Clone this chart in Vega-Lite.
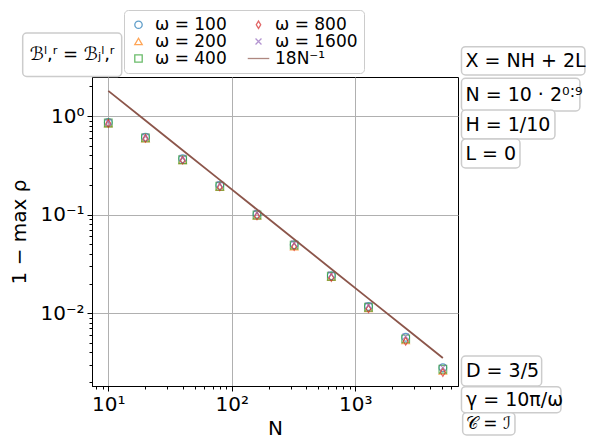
{
  "$schema": "https://vega.github.io/schema/vega-lite/v6.json",
  "autosize": "none",
  "width": 366,
  "height": 309,
  "padding": {"left": 92, "top": 77, "right": 140, "bottom": 60},
  "background": "white",
  "config": {
    "view": {"stroke": "black", "strokeWidth": 1},
    "font": "DejaVu Sans",
    "axis": {"domainColor": "black", "tickColor": "black", "labelColor": "black", "titleColor": "black", "labelFont": "DejaVu Sans", "titleFont": "DejaVu Sans", "titleFontWeight": "normal", "gridColor": "#b0b0b0", "gridWidth": 1}
  },
  "datasets": {
    "pts": [
      {"N": 10, "rho": 0.86, "series": "ω = 100"},
      {"N": 20, "rho": 0.61, "series": "ω = 100"},
      {"N": 40, "rho": 0.37, "series": "ω = 100"},
      {"N": 80, "rho": 0.198, "series": "ω = 100"},
      {"N": 160, "rho": 0.101, "series": "ω = 100"},
      {"N": 320, "rho": 0.0495, "series": "ω = 100"},
      {"N": 640, "rho": 0.024, "series": "ω = 100"},
      {"N": 1280, "rho": 0.0117, "series": "ω = 100"},
      {"N": 2560, "rho": 0.0057, "series": "ω = 100"},
      {"N": 5120, "rho": 0.0028, "series": "ω = 100"},
      {"N": 10, "rho": 0.84, "series": "ω = 200"},
      {"N": 20, "rho": 0.59, "series": "ω = 200"},
      {"N": 40, "rho": 0.355, "series": "ω = 200"},
      {"N": 80, "rho": 0.19, "series": "ω = 200"},
      {"N": 160, "rho": 0.097, "series": "ω = 200"},
      {"N": 320, "rho": 0.0475, "series": "ω = 200"},
      {"N": 640, "rho": 0.0232, "series": "ω = 200"},
      {"N": 1280, "rho": 0.0112, "series": "ω = 200"},
      {"N": 2560, "rho": 0.0053, "series": "ω = 200"},
      {"N": 5120, "rho": 0.0026, "series": "ω = 200"},
      {"N": 10, "rho": 0.85, "series": "ω = 400"},
      {"N": 20, "rho": 0.6, "series": "ω = 400"},
      {"N": 40, "rho": 0.36, "series": "ω = 400"},
      {"N": 80, "rho": 0.194, "series": "ω = 400"},
      {"N": 160, "rho": 0.099, "series": "ω = 400"},
      {"N": 320, "rho": 0.049, "series": "ω = 400"},
      {"N": 640, "rho": 0.0237, "series": "ω = 400"},
      {"N": 1280, "rho": 0.0115, "series": "ω = 400"},
      {"N": 2560, "rho": 0.0055, "series": "ω = 400"},
      {"N": 5120, "rho": 0.0027, "series": "ω = 400"},
      {"N": 10, "rho": 0.845, "series": "ω = 800"},
      {"N": 20, "rho": 0.595, "series": "ω = 800"},
      {"N": 40, "rho": 0.357, "series": "ω = 800"},
      {"N": 80, "rho": 0.191, "series": "ω = 800"},
      {"N": 160, "rho": 0.097, "series": "ω = 800"},
      {"N": 320, "rho": 0.0475, "series": "ω = 800"},
      {"N": 640, "rho": 0.023, "series": "ω = 800"},
      {"N": 1280, "rho": 0.0111, "series": "ω = 800"},
      {"N": 2560, "rho": 0.0052, "series": "ω = 800"},
      {"N": 5120, "rho": 0.0025, "series": "ω = 800"},
      {"N": 10, "rho": 0.87, "series": "ω = 1600"},
      {"N": 20, "rho": 0.62, "series": "ω = 1600"},
      {"N": 40, "rho": 0.375, "series": "ω = 1600"},
      {"N": 80, "rho": 0.203, "series": "ω = 1600"},
      {"N": 160, "rho": 0.104, "series": "ω = 1600"},
      {"N": 320, "rho": 0.051, "series": "ω = 1600"},
      {"N": 640, "rho": 0.0247, "series": "ω = 1600"},
      {"N": 1280, "rho": 0.012, "series": "ω = 1600"},
      {"N": 2560, "rho": 0.0058, "series": "ω = 1600"},
      {"N": 5120, "rho": 0.0028, "series": "ω = 1600"}
    ],
    "fit": [
      {"N": 10, "rho": 1.8, "series": "18N⁻¹"},
      {"N": 20, "rho": 0.9, "series": "18N⁻¹"},
      {"N": 40, "rho": 0.45, "series": "18N⁻¹"},
      {"N": 80, "rho": 0.225, "series": "18N⁻¹"},
      {"N": 160, "rho": 0.1125, "series": "18N⁻¹"},
      {"N": 320, "rho": 0.05625, "series": "18N⁻¹"},
      {"N": 640, "rho": 0.028125, "series": "18N⁻¹"},
      {"N": 1280, "rho": 0.0140625, "series": "18N⁻¹"},
      {"N": 2560, "rho": 0.00703125, "series": "18N⁻¹"},
      {"N": 5120, "rho": 0.003515625, "series": "18N⁻¹"}
    ]
  },
  "layer": [
    {
      "data": {"name": "pts"},
      "mark": {"type": "point", "filled": false, "size": 60, "strokeWidth": 1.1, "clip": true},
      "encoding": {
        "x": {
          "field": "N", "type": "quantitative",
          "scale": {"type": "log", "domain": [7.38, 6790], "nice": false},
          "axis": {
            "title": "N", "titleFontSize": 20, "titlePadding": 4,
            "labelFontSize": 20, "labelPadding": 3, "labelOverlap": false, "labelFlush": false,
            "values": [8, 9, 10, 20, 30, 40, 50, 60, 70, 80, 90, 100, 200, 300, 400, 500, 600, 700, 800, 900, 1000, 2000, 3000, 4000, 5000, 6000],
            "labelExpr": "datum.value == 10 ? '10¹' : datum.value == 100 ? '10²' : datum.value == 1000 ? '10³' : ''",
            "tickSize": {"condition": {"test": "datum.value == 10 || datum.value == 100 || datum.value == 1000", "value": 5}, "value": 3},
            "grid": true,
            "gridOpacity": {"condition": {"test": "datum.value == 10 || datum.value == 100 || datum.value == 1000", "value": 1}, "value": 0}
          }
        },
        "y": {
          "field": "rho", "type": "quantitative",
          "scale": {"type": "log", "domain": [0.001827, 2.487], "nice": false},
          "axis": {
            "title": "1 − max ρ", "titleFontSize": 20, "titlePadding": 10,
            "labelFontSize": 20, "labelPadding": 3, "labelOverlap": false, "labelFlush": false,
            "values": [0.002, 0.003, 0.004, 0.005, 0.006, 0.007, 0.008, 0.009, 0.01, 0.02, 0.03, 0.04, 0.05, 0.06, 0.07, 0.08, 0.09, 0.1, 0.2, 0.3, 0.4, 0.5, 0.6, 0.7, 0.8, 0.9, 1, 2],
            "labelExpr": "datum.value == 1 ? '10⁰' : datum.value == 0.1 ? '10⁻¹' : datum.value == 0.01 ? '10⁻²' : ''",
            "tickSize": {"condition": {"test": "datum.value == 1 || datum.value == 0.1 || datum.value == 0.01", "value": 5}, "value": 3},
            "grid": true,
            "gridOpacity": {"condition": {"test": "datum.value == 1 || datum.value == 0.1 || datum.value == 0.01", "value": 1}, "value": 0}
          }
        },
        "color": {
          "field": "series", "type": "nominal",
          "scale": {
            "domain": ["ω = 100", "ω = 200", "ω = 400", "ω = 800", "ω = 1600", "18N⁻¹"],
            "range": ["#1f77b4", "#ff7f0e", "#2ca02c", "#d62728", "#9467bd", "#8c564b"]
          },
          "legend": {
            "title": null, "orient": "none", "legendX": 32, "legendY": -67,
            "columns": 2, "columnPadding": 18, "rowPadding": -2.4,
            "labelFontSize": 17, "labelFont": "DejaVu Sans", "labelOffset": 8,
            "symbolSize": 55, "symbolStrokeWidth": 1.3,
            "padding": 6, "strokeColor": "#cccccc", "cornerRadius": 4, "fillColor": "white"
          }
        },
        "shape": {
          "field": "series", "type": "nominal",
          "scale": {
            "domain": ["ω = 100", "ω = 200", "ω = 400", "ω = 800", "ω = 1600", "18N⁻¹"],
            "range": ["circle", "triangle-up", "square", "M0,-1L0.6,0L0,1L-0.6,0Z", "M-0.8,-0.8L0.8,0.8M-0.8,0.8L0.8,-0.8", "M-2.9,0L2.9,0"]
          },
          "legend": {
            "title": null, "orient": "none", "legendX": 32, "legendY": -67,
            "columns": 2, "columnPadding": 18, "rowPadding": -2.4,
            "labelFontSize": 17, "labelFont": "DejaVu Sans", "labelOffset": 8,
            "symbolSize": 55, "symbolStrokeWidth": 1.3,
            "padding": 6, "strokeColor": "#cccccc", "cornerRadius": 4, "fillColor": "white"
          }
        }
      }
    },
    {
      "data": {"name": "fit"},
      "mark": {"type": "line", "strokeWidth": 1.8},
      "encoding": {
        "x": {"field": "N", "type": "quantitative"},
        "y": {"field": "rho", "type": "quantitative"},
        "color": {"field": "series", "type": "nominal"}
      }
    },
    {
      "data": {"values": [{}]},
      "mark": {"type": "rect", "fill": "white", "stroke": "#cccccc", "strokeWidth": 1.5, "cornerRadius": 4},
      "encoding": {"x": {"datum": 2.027}, "x2": {"datum": 12.84}, "y": {"datum": 6.946}, "y2": {"datum": 2.516}}
    },
    {
      "data": {"values": [{"label": "ℬˡ,ʳ = ℬⱼˡ,ʳ"}]},
      "mark": {"type": "text", "align": "center", "baseline": "middle", "fontSize": 18, "font": "DejaVu Sans", "color": "black"},
      "encoding": {"x": {"datum": 5.1}, "y": {"datum": 4.156}, "text": {"field": "label"}}
    },
    {
      "data": {"values": [{}]},
      "mark": {"type": "rect", "fill": "white", "stroke": "#cccccc", "strokeWidth": 1.5, "cornerRadius": 4},
      "encoding": {"x": {"datum": 7244}, "x2": {"datum": 72400}, "y": {"datum": 5.044}, "y2": {"datum": 2.605}}
    },
    {
      "data": {"values": [{}]},
      "mark": {"type": "rect", "fill": "white", "stroke": "#cccccc", "strokeWidth": 1.5, "cornerRadius": 4},
      "encoding": {"x": {"datum": 7244}, "x2": {"datum": 65900}, "y": {"datum": 2.412}, "y2": {"datum": 1.124}}
    },
    {
      "data": {"values": [{}]},
      "mark": {"type": "rect", "fill": "white", "stroke": "#cccccc", "strokeWidth": 1.5, "cornerRadius": 4},
      "encoding": {"x": {"datum": 7244}, "x2": {"datum": 41400}, "y": {"datum": 1.15}, "y2": {"datum": 0.5843}}
    },
    {
      "data": {"values": [{}]},
      "mark": {"type": "rect", "fill": "white", "stroke": "#cccccc", "strokeWidth": 1.5, "cornerRadius": 4},
      "encoding": {"x": {"datum": 7244}, "x2": {"datum": 21570}, "y": {"datum": 0.5843}, "y2": {"datum": 0.297}}
    },
    {
      "data": {"values": [{}]},
      "mark": {"type": "rect", "fill": "white", "stroke": "#cccccc", "strokeWidth": 1.5, "cornerRadius": 4},
      "encoding": {"x": {"datum": 7244}, "x2": {"datum": 32300}, "y": {"datum": 0.00368}, "y2": {"datum": 0.001827}}
    },
    {
      "data": {"values": [{}]},
      "mark": {"type": "rect", "fill": "white", "stroke": "#cccccc", "strokeWidth": 1.5, "cornerRadius": 4},
      "encoding": {"x": {"datum": 7244}, "x2": {"datum": 46300}, "y": {"datum": 0.001797}, "y2": {"datum": 0.000979}}
    },
    {
      "data": {"values": [{}]},
      "mark": {"type": "rect", "fill": "white", "stroke": "#cccccc", "strokeWidth": 1.5, "cornerRadius": 4},
      "encoding": {"x": {"datum": 7406}, "x2": {"datum": 19640}, "y": {"datum": 0.000979}, "y2": {"datum": 0.000582}}
    },
    {
      "data": {"values": [{"label": "X = NH + 2L"}]},
      "mark": {"type": "text", "align": "left", "baseline": "middle", "fontSize": 19, "font": "DejaVu Sans", "color": "black"},
      "encoding": {"x": {"datum": 7800}, "y": {"datum": 3.629}, "text": {"field": "label"}}
    },
    {
      "data": {"values": [{"label": "N = 10 · 2⁰˸⁹"}]},
      "mark": {"type": "text", "align": "left", "baseline": "middle", "fontSize": 19, "font": "DejaVu Sans", "color": "black"},
      "encoding": {"x": {"datum": 7800}, "y": {"datum": 1.633}, "text": {"field": "label"}}
    },
    {
      "data": {"values": [{"label": "H = 1/10"}]},
      "mark": {"type": "text", "align": "left", "baseline": "middle", "fontSize": 19, "font": "DejaVu Sans", "color": "black"},
      "encoding": {"x": {"datum": 7800}, "y": {"datum": 0.82}, "text": {"field": "label"}}
    },
    {
      "data": {"values": [{"label": "L = 0"}]},
      "mark": {"type": "text", "align": "left", "baseline": "middle", "fontSize": 19, "font": "DejaVu Sans", "color": "black"},
      "encoding": {"x": {"datum": 7800}, "y": {"datum": 0.4164}, "text": {"field": "label"}}
    },
    {
      "data": {"values": [{"label": "D = 3/5"}]},
      "mark": {"type": "text", "align": "left", "baseline": "middle", "fontSize": 19, "font": "DejaVu Sans", "color": "black"},
      "encoding": {"x": {"datum": 7875}, "y": {"datum": 0.002593}, "text": {"field": "label"}}
    },
    {
      "data": {"values": [{"label": "γ = 10π/ω"}]},
      "mark": {"type": "text", "align": "left", "baseline": "middle", "fontSize": 19, "font": "DejaVu Sans", "color": "black"},
      "encoding": {"x": {"datum": 7875}, "y": {"datum": 0.001327}, "text": {"field": "label"}}
    },
    {
      "data": {"values": [{"label": "𝒞 = ℐ"}]},
      "mark": {"type": "text", "align": "left", "baseline": "middle", "fontSize": 17, "font": "DejaVu Sans", "color": "black"},
      "encoding": {"x": {"datum": 7875}, "y": {"datum": 0.000756}, "text": {"field": "label"}}
    }
  ]
}
